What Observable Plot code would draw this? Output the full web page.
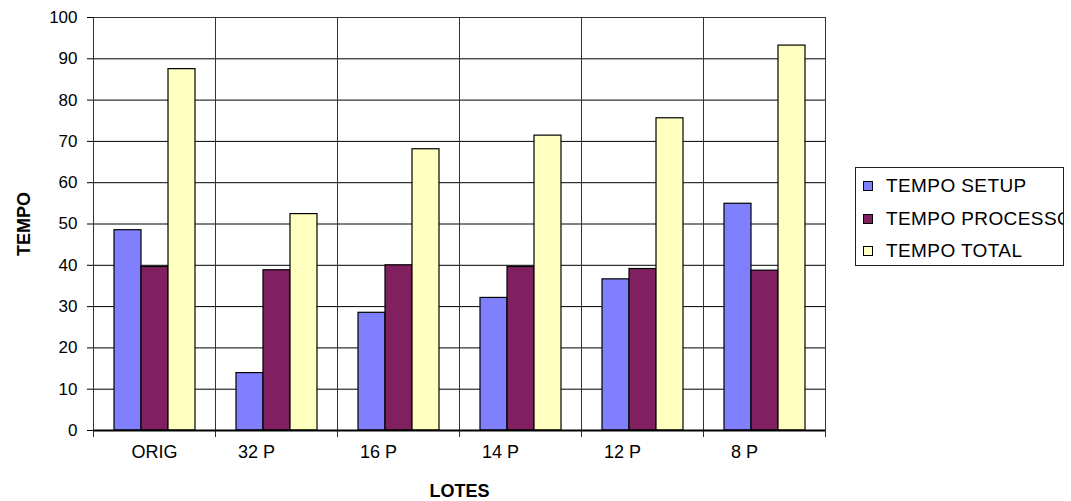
<!DOCTYPE html>
<html>
<head>
<meta charset="utf-8">
<script src="https://cdn.jsdelivr.net/npm/d3@7"></script>
<script src="https://cdn.jsdelivr.net/npm/@observablehq/plot@0.6"></script>
<style>
  html, body { margin: 0; padding: 0; background: #fff; }
  #wrap { position: relative; width: 1071px; height: 501px; font-family: "Liberation Sans", Arial, sans-serif; }
  #wrap svg g[aria-label="y-axis label"] text,
  #wrap svg g[aria-label="fx-axis label"] text { font-weight: bold; font-size: 18px; }
  .legenda { position: absolute; left: 855px; top: 167px; width: 207px; height: 97px;
             border: 1px solid #222; overflow: hidden; background: #fff; }
  .item { position: absolute; left: 7px; white-space: nowrap; font-size: 19px; letter-spacing: 0.4px; line-height: 20px; color: #000; }
  .item .sw { position: absolute; left: 0; top: 5px; width: 8px; height: 8px; border: 1px solid #000; }
  .item span.t { position: absolute; left: 23px; top: 0; }
</style>
</head>
<body>
<div id="wrap"></div>
<script>
// Lotes (categorias do eixo x) e rótulos exibidos sob cada grupo
const lotes = ["ORIG", "32 P", "16 P", "14 P", "12 P", "8 P"];
const rotulos = ["ORIG", "32 P\u00a0\u00a0\u00a0\u00a0\u00a0\u00a0\u00a0\u00a0", "16 P\u00a0\u00a0\u00a0\u00a0\u00a0\u00a0\u00a0\u00a0",
                 "14 P\u00a0\u00a0\u00a0\u00a0\u00a0\u00a0\u00a0\u00a0", "12 P\u00a0\u00a0\u00a0\u00a0\u00a0\u00a0\u00a0\u00a0", "8 P\u00a0\u00a0\u00a0\u00a0\u00a0\u00a0\u00a0\u00a0"];

// Séries
const series = ["TEMPO SETUP", "TEMPO PROCESSO", "TEMPO TOTAL"];
const tempoSetup = [48.5, 13.9, 28.5, 32.1, 36.6, 54.9];
const tempoProcesso = [39.6, 38.8, 40.0, 39.6, 39.1, 38.7];
const tempoTotal = [87.5, 52.4, 68.1, 71.4, 75.6, 93.2];
const cores = ["#8080ff", "#802060", "#ffffc0"];

// Marcas do eixo y
const yTicks = [0, 10, 20, 30, 40, 50, 60, 70, 80, 90, 100];

const valores = [tempoSetup, tempoProcesso, tempoTotal];
const linhas = lotes.flatMap((lote, i) =>
  series.map((serie, j) => ({lote, serie, tempo: valores[j][i]}))
);

const chart = Plot.plot({
  width: 1071,
  height: 501,
  marginTop: 17,
  marginBottom: 71,
  marginLeft: 91,
  marginRight: 244,
  style: {fontFamily: "'Liberation Sans', Arial, sans-serif", background: "white", color: "black"},
  fx: {domain: lotes, padding: 0},
  x: {domain: series, paddingInner: 0, paddingOuter: 0.72, axis: null},
  y: {domain: [0, 100]},
  color: {domain: series, range: cores},
  marks: [
    Plot.gridY(yTicks, {stroke: "black", strokeOpacity: 1, strokeWidth: 1}),
    Plot.frame({stroke: "#333", strokeWidth: 1}),
    Plot.frame({anchor: "left", stroke: "#333", insetBottom: -6}),
    Plot.frame({anchor: "right", stroke: "#333", insetBottom: -6}),
    Plot.barY(linhas, {fx: "lote", x: "serie", y: "tempo", fill: "serie", stroke: "black", strokeWidth: 1.2}),
    Plot.ruleY([0], {stroke: "black", strokeWidth: 2}),
    Plot.axisY(yTicks, {
      tickSize: 6, tickPadding: 10, fontSize: 17,
      label: "TEMPO", labelAnchor: "center", labelArrow: "none", labelOffset: 76
    }),
    Plot.axisFx({
      anchor: "bottom",
      tickSize: 0, tickPadding: 15, fontSize: 18,
      tickFormat: d => rotulos[lotes.indexOf(d)],
      label: "LOTES", labelAnchor: "center", labelArrow: "none", labelOffset: 66
    })
  ]
});

const wrap = document.getElementById("wrap");
wrap.appendChild(chart);

// Legenda com as três séries
const legenda = document.createElement("div");
legenda.className = "legenda";
const tops = [8, 41, 73];
series.forEach((s, i) => {
  const item = document.createElement("div");
  item.className = "item";
  item.style.top = tops[i] + "px";
  const sw = document.createElement("span");
  sw.className = "sw";
  sw.style.background = cores[i];
  const t = document.createElement("span");
  t.className = "t";
  t.textContent = s;
  item.appendChild(sw);
  item.appendChild(t);
  legenda.appendChild(item);
});
wrap.appendChild(legenda);
</script>
</body>
</html>
